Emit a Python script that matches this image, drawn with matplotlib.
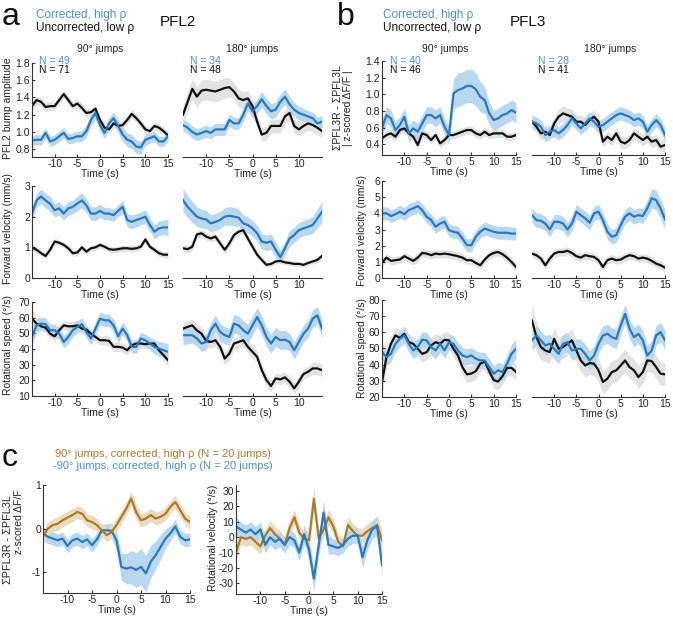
import numpy as np
import matplotlib
matplotlib.use("Agg")
import matplotlib.pyplot as plt

plt.rcParams['font.family'] = ['Liberation Sans', 'DejaVu Sans']

t = np.arange(-15, 16)

# ---- panel a : PFL2 ----
pfl2_amp_90_hi = [0.90, 0.91, 0.91, 0.99, 0.89, 0.91, 0.95, 0.99, 0.92, 0.93, 0.95, 0.95, 1.01, 1.14, 1.22, 1.08,
                  0.99, 1.10, 1.16, 1.07, 0.97, 0.91, 0.89, 0.83, 0.82, 0.91, 0.93, 0.95, 0.89, 0.89, 0.95]
pfl2_amp_90_hi_err = [0.06, 0.06, 0.06, 0.06, 0.06, 0.06, 0.06, 0.06, 0.06, 0.06, 0.06, 0.06, 0.07, 0.07, 0.07, 0.07,
                      0.07, 0.07, 0.07, 0.08, 0.08, 0.08, 0.08, 0.08, 0.07, 0.07, 0.06, 0.06, 0.06, 0.06, 0.06]
pfl2_amp_90_lo = [1.30, 1.37, 1.35, 1.29, 1.30, 1.30, 1.37, 1.44, 1.37, 1.30, 1.33, 1.28, 1.22, 1.23, 1.27, 1.14,
                  1.05, 1.03, 1.10, 1.07, 1.08, 1.14, 1.21, 1.16, 1.10, 1.03, 1.01, 1.07, 1.05, 1.01, 0.96]
pfl2_amp_90_lo_err = [0.05, 0.05, 0.05, 0.05, 0.05, 0.05, 0.05, 0.05, 0.05, 0.05, 0.05, 0.05, 0.05, 0.05, 0.05, 0.05,
                      0.05, 0.05, 0.05, 0.05, 0.05, 0.05, 0.05, 0.05, 0.05, 0.05, 0.05, 0.05, 0.05, 0.05, 0.05]
pfl2_amp_180_hi = [1.08, 1.05, 1.00, 0.97, 0.99, 1.01, 0.99, 1.03, 1.03, 1.03, 1.14, 1.10, 1.10, 1.20, 1.33, 1.24,
                   1.30, 1.38, 1.30, 1.24, 1.26, 1.35, 1.41, 1.32, 1.26, 1.22, 1.20, 1.18, 1.16, 1.10, 1.12]
pfl2_amp_180_hi_err = [0.07, 0.07, 0.07, 0.07, 0.07, 0.07, 0.07, 0.07, 0.07, 0.07, 0.07, 0.07, 0.07, 0.08, 0.08, 0.08,
                       0.08, 0.09, 0.09, 0.09, 0.09, 0.09, 0.09, 0.09, 0.08, 0.08, 0.07, 0.07, 0.07, 0.07, 0.07]
pfl2_amp_180_lo = [1.20, 1.35, 1.50, 1.41, 1.48, 1.49, 1.48, 1.47, 1.49, 1.51, 1.52, 1.47, 1.39, 1.37, 1.39, 1.30,
                   1.12, 0.97, 0.99, 1.07, 1.07, 1.07, 1.18, 1.22, 1.07, 1.03, 1.07, 1.10, 1.08, 1.05, 1.01]
pfl2_amp_180_lo_err = [0.10, 0.11, 0.12, 0.12, 0.12, 0.12, 0.12, 0.12, 0.12, 0.12, 0.11, 0.10, 0.10, 0.10, 0.09, 0.09,
                       0.08, 0.08, 0.08, 0.08, 0.08, 0.08, 0.08, 0.08, 0.08, 0.08, 0.08, 0.08, 0.08, 0.08, 0.08]

pfl2_fwd_90_hi = [2.10, 2.53, 2.66, 2.53, 2.42, 2.21, 2.27, 2.10, 2.27, 2.32, 2.43, 2.53, 2.37, 2.10, 2.10, 2.19,
                  2.10, 2.10, 2.05, 2.19, 2.32, 1.89, 1.83, 1.89, 1.94, 2.00, 1.73, 1.51, 1.62, 1.65, 1.65]
pfl2_fwd_90_hi_err = [0.22, 0.22, 0.24, 0.24, 0.24, 0.22, 0.22, 0.22, 0.22, 0.22, 0.24, 0.24, 0.22, 0.22, 0.22, 0.22,
                      0.20, 0.20, 0.20, 0.20, 0.22, 0.22, 0.22, 0.22, 0.22, 0.22, 0.22, 0.22, 0.24, 0.24, 0.26]
pfl2_fwd_90_lo = [0.99, 0.92, 0.81, 0.72, 0.92, 1.19, 1.15, 1.08, 0.97, 0.81, 0.83, 1.00, 0.86, 0.97, 1.00, 1.08,
                  1.02, 0.94, 0.92, 0.94, 0.97, 0.97, 0.95, 0.97, 1.02, 1.26, 1.02, 0.92, 0.81, 0.76, 0.76]
pfl2_fwd_90_lo_err = [0.10, 0.10, 0.10, 0.10, 0.10, 0.10, 0.10, 0.10, 0.10, 0.10, 0.10, 0.10, 0.10, 0.10, 0.10, 0.10,
                      0.10, 0.10, 0.10, 0.10, 0.10, 0.10, 0.10, 0.10, 0.10, 0.10, 0.10, 0.10, 0.10, 0.10, 0.10]
pfl2_fwd_180_hi = [2.54, 2.32, 2.16, 2.00, 1.94, 1.91, 1.78, 1.83, 1.89, 2.00, 2.03, 2.00, 1.97, 1.78, 1.73, 1.62,
                   1.46, 1.19, 1.15, 1.19, 0.92, 0.68, 0.97, 1.29, 1.40, 1.56, 1.62, 1.67, 1.73, 1.94, 2.16]
pfl2_fwd_180_hi_err = [0.38, 0.36, 0.34, 0.32, 0.30, 0.30, 0.28, 0.28, 0.28, 0.28, 0.30, 0.30, 0.28, 0.28, 0.26, 0.26,
                       0.25, 0.25, 0.25, 0.25, 0.25, 0.22, 0.22, 0.25, 0.25, 0.25, 0.25, 0.26, 0.28, 0.30, 0.34]
pfl2_fwd_180_lo = [0.97, 0.94, 1.02, 1.42, 1.46, 1.35, 1.29, 1.35, 1.13, 0.92, 1.13, 1.40, 1.51, 1.56, 1.29, 1.02,
                   0.76, 0.59, 0.43, 0.46, 0.54, 0.56, 0.51, 0.49, 0.46, 0.46, 0.43, 0.49, 0.54, 0.59, 0.72]
pfl2_fwd_180_lo_err = [0.12, 0.12, 0.12, 0.12, 0.12, 0.12, 0.12, 0.12, 0.12, 0.12, 0.12, 0.12, 0.12, 0.12, 0.12, 0.12,
                       0.10, 0.10, 0.08, 0.08, 0.08, 0.08, 0.08, 0.08, 0.08, 0.08, 0.08, 0.08, 0.08, 0.10, 0.12]

pfl2_rot_90_hi = [47.7, 55.1, 56.2, 55.8, 52.0, 52.0, 49.8, 44.5, 47.7, 52.0, 54.1, 55.8, 50.9, 46.7, 53.0, 59.4,
                  58.3, 58.3, 55.1, 48.1, 53.0, 48.8, 41.4, 41.4, 46.7, 45.6, 43.5, 41.4, 40.3, 39.2, 38.2]
pfl2_rot_90_hi_err = [5.0, 4.5, 4.0, 4.0, 4.0, 4.0, 4.0, 4.0, 4.0, 4.0, 4.0, 4.0, 4.0, 4.0, 4.0, 4.0,
                      4.0, 4.0, 4.0, 4.0, 4.0, 4.0, 4.0, 4.0, 4.0, 4.0, 4.0, 4.5, 4.5, 5.0, 5.0]
pfl2_rot_90_lo = [59.4, 56.2, 54.5, 53.6, 49.8, 48.1, 52.0, 55.1, 54.5, 54.5, 55.1, 53.0, 52.4, 49.8, 47.7, 45.6,
                  45.6, 45.2, 41.4, 41.4, 40.9, 39.2, 42.4, 43.5, 43.5, 43.1, 43.5, 43.5, 39.2, 36.1, 32.9]
pfl2_rot_90_lo_err = [6.0, 4.0, 3.0, 3.0, 3.0, 3.0, 3.0, 3.0, 3.0, 3.0, 3.0, 3.0, 3.0, 3.0, 3.0, 3.0,
                      3.0, 3.0, 3.0, 3.0, 3.0, 3.0, 3.0, 3.0, 3.0, 3.0, 3.0, 3.0, 3.0, 3.5, 4.0]
pfl2_rot_180_hi = [48.8, 48.8, 48.8, 46.7, 43.5, 44.5, 52.0, 56.2, 50.9, 48.8, 47.7, 56.2, 55.1, 52.0, 49.8, 55.1,
                   60.4, 55.1, 47.7, 43.5, 47.7, 45.6, 46.0, 44.5, 39.2, 44.5, 49.8, 53.0, 59.4, 61.5, 53.0]
pfl2_rot_180_hi_err = [6.0, 5.5, 5.0, 5.0, 5.0, 5.0, 5.0, 5.5, 5.5, 5.5, 5.5, 6.0, 6.0, 6.0, 6.0, 6.0,
                       6.0, 6.0, 6.0, 6.0, 6.0, 6.0, 6.0, 5.5, 5.5, 5.5, 5.5, 5.5, 5.5, 5.5, 6.0]
pfl2_rot_180_lo = [53.0, 54.1, 55.1, 51.9, 49.8, 45.2, 44.5, 45.6, 41.4, 33.9, 37.1, 43.5, 44.5, 45.6, 41.4, 38.2,
                   35.0, 26.5, 20.2, 16.4, 21.2, 20.6, 21.9, 19.1, 14.9, 19.1, 24.0, 25.5, 27.6, 27.6, 26.5]
pfl2_rot_180_lo_err = [4.0, 4.0, 4.0, 4.0, 4.0, 4.0, 4.0, 4.0, 4.0, 4.0, 4.0, 4.0, 4.0, 4.0, 4.0, 4.0,
                       3.5, 3.5, 3.5, 3.5, 3.5, 3.5, 3.5, 3.5, 3.5, 3.5, 3.5, 3.5, 4.0, 4.0, 4.0]

# ---- panel b : PFL3 ----
pfl3_z_90_hi = [0.59, 0.75, 0.71, 0.57, 0.63, 0.73, 0.53, 0.59, 0.55, 0.65, 0.75, 0.75, 0.71, 0.75, 0.61, 0.51,
                1.01, 1.05, 1.07, 1.10, 1.10, 1.06, 0.97, 0.93, 0.77, 0.69, 0.71, 0.75, 0.77, 0.81, 0.78]
pfl3_z_90_hi_err = [0.10, 0.10, 0.10, 0.10, 0.10, 0.10, 0.10, 0.10, 0.10, 0.10, 0.10, 0.10, 0.10, 0.10, 0.10, 0.10,
                    0.18, 0.20, 0.20, 0.20, 0.20, 0.20, 0.18, 0.16, 0.14, 0.12, 0.12, 0.12, 0.12, 0.12, 0.12]
pfl3_z_90_lo = [0.47, 0.51, 0.53, 0.49, 0.57, 0.59, 0.53, 0.49, 0.39, 0.53, 0.51, 0.45, 0.51, 0.41, 0.45, 0.51,
                0.51, 0.53, 0.55, 0.57, 0.57, 0.53, 0.51, 0.55, 0.51, 0.53, 0.53, 0.53, 0.49, 0.49, 0.51]
pfl3_z_90_lo_err = [0.05, 0.05, 0.05, 0.05, 0.05, 0.05, 0.05, 0.05, 0.05, 0.05, 0.05, 0.05, 0.05, 0.05, 0.05, 0.05,
                    0.05, 0.05, 0.05, 0.05, 0.05, 0.05, 0.05, 0.05, 0.05, 0.05, 0.05, 0.05, 0.05, 0.05, 0.05]
pfl3_z_180_hi = [0.67, 0.65, 0.61, 0.51, 0.55, 0.57, 0.53, 0.57, 0.63, 0.71, 0.65, 0.59, 0.65, 0.71, 0.67, 0.61,
                 0.63, 0.67, 0.71, 0.75, 0.77, 0.75, 0.73, 0.69, 0.71, 0.67, 0.55, 0.63, 0.69, 0.63, 0.51]
pfl3_z_180_hi_err = [0.08, 0.08, 0.08, 0.08, 0.08, 0.08, 0.08, 0.08, 0.08, 0.08, 0.08, 0.08, 0.08, 0.08, 0.08, 0.08,
                     0.08, 0.08, 0.08, 0.08, 0.08, 0.08, 0.08, 0.08, 0.08, 0.08, 0.08, 0.08, 0.08, 0.08, 0.08]
pfl3_z_180_lo = [0.67, 0.61, 0.53, 0.55, 0.51, 0.65, 0.73, 0.77, 0.75, 0.73, 0.67, 0.67, 0.63, 0.69, 0.73, 0.67,
                 0.43, 0.49, 0.45, 0.53, 0.43, 0.41, 0.45, 0.53, 0.49, 0.45, 0.49, 0.43, 0.45, 0.37, 0.39]
pfl3_z_180_lo_err = [0.08, 0.08, 0.08, 0.08, 0.08, 0.08, 0.09, 0.09, 0.09, 0.09, 0.08, 0.08, 0.08, 0.08, 0.08, 0.08,
                     0.07, 0.07, 0.07, 0.07, 0.07, 0.07, 0.07, 0.07, 0.07, 0.07, 0.07, 0.07, 0.07, 0.07, 0.07]

pfl3_fwd_90_hi = [4.00, 4.00, 3.83, 3.95, 4.10, 3.95, 4.20, 4.31, 4.45, 4.20, 3.79, 3.58, 3.17, 3.37, 3.48, 2.96,
                  2.86, 2.80, 2.44, 2.03, 2.03, 2.55, 2.86, 3.06, 2.96, 2.86, 2.80, 2.80, 2.80, 2.75, 2.75]
pfl3_fwd_90_hi_err = [0.40, 0.40, 0.40, 0.40, 0.40, 0.40, 0.40, 0.40, 0.40, 0.40, 0.40, 0.40, 0.40, 0.40, 0.40, 0.40,
                      0.40, 0.40, 0.40, 0.40, 0.40, 0.40, 0.40, 0.40, 0.40, 0.40, 0.40, 0.40, 0.40, 0.40, 0.40]
pfl3_fwd_90_lo = [0.95, 1.26, 1.06, 1.10, 1.14, 1.35, 1.20, 1.06, 1.26, 1.55, 1.51, 1.41, 1.51, 1.47, 1.51, 1.47,
                  1.41, 1.35, 1.26, 1.10, 1.10, 0.93, 0.79, 1.14, 1.41, 1.55, 1.61, 1.47, 1.26, 0.99, 0.68]
pfl3_fwd_90_lo_err = [0.25, 0.25, 0.25, 0.25, 0.25, 0.25, 0.25, 0.25, 0.25, 0.25, 0.25, 0.25, 0.25, 0.25, 0.25, 0.25,
                      0.25, 0.25, 0.25, 0.25, 0.25, 0.25, 0.25, 0.25, 0.25, 0.25, 0.25, 0.25, 0.25, 0.25, 0.25]
pfl3_fwd_180_hi = [3.89, 3.58, 3.54, 3.37, 3.00, 3.48, 3.48, 3.37, 3.00, 3.37, 4.10, 3.89, 3.69, 3.42, 4.00, 4.10,
                   3.58, 2.86, 2.55, 2.65, 3.27, 3.79, 4.00, 3.79, 3.89, 3.83, 4.31, 4.93, 4.82, 4.31, 3.62]
pfl3_fwd_180_hi_err = [0.45, 0.45, 0.45, 0.45, 0.45, 0.45, 0.45, 0.45, 0.45, 0.45, 0.45, 0.45, 0.45, 0.45, 0.45, 0.45,
                       0.45, 0.45, 0.45, 0.45, 0.45, 0.45, 0.45, 0.45, 0.45, 0.45, 0.50, 0.60, 0.60, 0.60, 0.60]
pfl3_fwd_180_lo = [1.51, 1.41, 1.20, 0.79, 1.20, 1.51, 1.61, 1.61, 1.68, 1.55, 1.35, 1.26, 1.41, 1.35, 1.30, 1.10,
                   0.68, 1.10, 1.20, 1.10, 1.14, 1.30, 1.41, 1.35, 1.20, 1.26, 1.20, 1.06, 0.89, 0.79, 0.64]
pfl3_fwd_180_lo_err = [0.25, 0.25, 0.25, 0.25, 0.25, 0.25, 0.25, 0.25, 0.25, 0.25, 0.25, 0.25, 0.25, 0.25, 0.25, 0.25,
                       0.25, 0.25, 0.25, 0.25, 0.25, 0.25, 0.25, 0.25, 0.25, 0.25, 0.25, 0.25, 0.25, 0.25, 0.25]

pfl3_rot_90_hi = [47.8, 44.7, 46.7, 52.9, 56.0, 58.1, 52.9, 48.8, 50.9, 55.4, 55.0, 50.9, 48.8, 52.9, 48.8, 53.9,
                  52.9, 48.8, 45.7, 44.7, 45.7, 43.7, 42.6, 42.6, 38.5, 34.4, 36.5, 35.4, 40.6, 46.7, 49.8]
pfl3_rot_90_hi_err = [5.0, 5.0, 5.0, 5.0, 5.0, 5.0, 5.0, 5.0, 5.0, 5.0, 5.0, 5.0, 5.0, 5.0, 5.0, 5.0,
                      5.0, 5.0, 5.0, 5.0, 5.0, 5.0, 5.0, 5.0, 5.0, 5.0, 5.0, 5.0, 5.5, 6.0, 6.0]
pfl3_rot_90_lo = [29.3, 44.7, 52.9, 58.1, 56.6, 59.1, 53.9, 52.9, 49.8, 46.7, 47.8, 51.9, 53.9, 52.9, 55.4, 55.0,
                  49.8, 45.7, 38.5, 34.0, 34.5, 36.0, 40.6, 42.0, 36.0, 30.5, 29.5, 33.0, 38.0, 38.0, 35.5]
pfl3_rot_90_lo_err = [8.0, 6.0, 5.0, 5.0, 5.0, 5.0, 5.0, 5.0, 5.0, 5.0, 5.0, 5.0, 5.0, 5.0, 5.0, 5.0,
                      5.0, 5.0, 5.0, 5.0, 5.0, 5.0, 5.0, 5.0, 5.0, 5.0, 5.0, 5.0, 5.0, 5.0, 5.0]
pfl3_rot_180_hi = [55.0, 58.1, 55.0, 51.9, 52.9, 49.8, 46.7, 52.9, 53.9, 48.8, 49.8, 49.8, 46.7, 42.6, 45.7, 52.9,
                   58.1, 59.1, 57.0, 56.0, 64.2, 71.4, 62.2, 57.0, 59.1, 55.0, 45.7, 48.8, 58.1, 60.1, 55.0]
pfl3_rot_180_hi_err = [6.0, 6.0, 6.0, 6.0, 6.0, 6.0, 6.0, 6.0, 6.0, 6.0, 6.0, 6.0, 6.0, 6.0, 6.0, 6.0,
                       6.0, 6.0, 6.0, 6.0, 6.0, 6.0, 6.0, 6.0, 6.0, 6.0, 6.0, 6.0, 6.0, 6.0, 6.0]
pfl3_rot_180_lo = [67.3, 57.0, 50.9, 48.8, 47.8, 56.0, 49.8, 50.9, 52.9, 55.0, 48.8, 42.6, 39.5, 41.0, 40.6, 36.5,
                   29.3, 31.3, 35.4, 36.5, 39.5, 42.6, 38.5, 36.5, 32.3, 35.4, 42.6, 42.2, 38.5, 34.4, 34.0]
pfl3_rot_180_lo_err = [10.0, 9.0, 8.0, 7.0, 7.0, 7.0, 7.0, 7.0, 7.0, 7.0, 7.0, 7.0, 7.0, 7.0, 7.0, 7.0,
                       7.0, 7.0, 7.0, 7.0, 7.0, 7.0, 7.0, 7.0, 7.0, 7.0, 7.0, 7.0, 7.0, 7.0, 7.0]

# ---- panel c : +90 vs -90 jumps ----
c_z_pos = [-0.19, 0.00, 0.08, 0.11, 0.19, 0.25, 0.31, 0.38, 0.34, 0.19, 0.15, 0.08, -0.04, -0.15, -0.08, 0.08,
           0.27, 0.46, 0.69, 0.38, 0.19, 0.23, 0.31, 0.23, 0.27, 0.34, 0.50, 0.61, 0.42, 0.23, 0.15]
c_z_pos_err = [0.15, 0.15, 0.15, 0.15, 0.15, 0.15, 0.15, 0.15, 0.15, 0.15, 0.15, 0.15, 0.15, 0.15, 0.15, 0.15,
               0.15, 0.15, 0.17, 0.17, 0.15, 0.15, 0.15, 0.15, 0.15, 0.15, 0.15, 0.15, 0.15, 0.15, 0.15]
c_z_neg = [-0.11, -0.19, -0.23, -0.27, -0.23, -0.40, -0.27, -0.23, -0.31, -0.25, -0.38, -0.25, -0.04, -0.04, -0.05, -0.27,
           -0.88, -0.92, -0.89, -0.95, -0.88, -1.03, -0.76, -0.61, -0.42, -0.23, -0.11, 0.05, -0.19, -0.27, -0.25]
c_z_neg_err = [0.15, 0.15, 0.15, 0.15, 0.15, 0.15, 0.15, 0.15, 0.15, 0.15, 0.15, 0.15, 0.15, 0.15, 0.18, 0.22,
               0.30, 0.35, 0.38, 0.40, 0.42, 0.42, 0.38, 0.32, 0.28, 0.22, 0.18, 0.16, 0.16, 0.15, 0.15]
c_rv_pos = [-10, 0, -1, 0, -3, -6, 1, 6, 2, -1, -5, 6, 13, 3, -1, -2,
            25, -1, 5, 13, 7, -3, -6, 8, 4, 1, 1, 4, 6, 8, -2]
c_rv_pos_err = [5, 5, 5, 5, 5, 5, 5, 5, 5, 5, 5, 5, 5, 5, 5, 6,
                8, 6, 5, 5, 5, 5, 5, 5, 5, 5, 5, 5, 5, 6, 7]
c_rv_neg = [7, 5, 3, 5, 2, 5, -5, 0, -3, -1, -5, 0, -2, -10, 2, -8,
            -27, -5, 16, -5, -6, -7, -5, -1, 1, 1, -13, -2, 5, 7, -18]
c_rv_neg_err = [6, 5, 5, 5, 5, 5, 5, 5, 5, 5, 5, 5, 5, 5, 6, 7,
                8, 7, 8, 6, 5, 5, 5, 5, 5, 5, 7, 6, 6, 6, 8]

BLUE = '#2b79ba'
BLUE_BAND = '#b9d8f0'
BLUE_TXT = '#4a90cf'
BLACK = '#111111'
GREY_BAND = '#e2e2e2'
GOLD = '#a97c2c'
GOLD_BAND = '#ecdcbf'
AX = '#333333'

W, H = 673, 622
fig = plt.figure(figsize=(W / 100, H / 100), dpi=100)


def box(x0, y0, x1, y1):
    return [x0 / W, 1 - y1 / H, (x1 - x0) / W, (y1 - y0) / H]


def ftext(x, y, s, **kw):
    fig.text(x / W, 1 - y / H, s, **kw)


def draw(ax, series, ylim, yticks, yfmt, xticks, left=True):
    for m, e, c, b in series:
        m = np.array(m, float)
        e = np.array(e, float)
        ax.fill_between(t, m - e, m + e, color=b, lw=0)
    for m, e, c, b in series:
        ax.plot(t, m, color=c, lw=1.6)
    ax.set_xlim(-15, 15)
    ax.set_ylim(*ylim)
    ax.set_xticks(xticks)
    ax.set_xticklabels([str(v) for v in xticks])
    for s in ['top', 'right']:
        ax.spines[s].set_visible(False)
    ax.spines['bottom'].set_color(AX)
    ax.spines['left'].set_color(AX)
    ax.spines['bottom'].set_linewidth(0.8)
    ax.spines['left'].set_linewidth(0.8)
    if left:
        ax.set_yticks(yticks)
        ax.set_yticklabels([yfmt.format(v) for v in yticks])
    else:
        ax.spines['left'].set_visible(False)
        ax.set_yticks([])
    ax.tick_params(direction='in', length=2.5, width=0.8, color=AX, labelsize=7.5,
                   labelcolor='#222222', pad=1.5)
    ax.set_xlabel('Time (s)', fontsize=7.5, color='#222222', labelpad=0)
    ax.patch.set_alpha(0)


# panel a
a_cols = [(32, 168), (183, 322)]
b_cols = [(382, 516), (532, 665)]
a_rows = [(63, 157), (186, 278), (302, 396)]
b_rows = [(61, 155), (181, 278), (300, 397)]

a_data = [
    [(pfl2_amp_90_lo, pfl2_amp_90_lo_err, pfl2_amp_90_hi, pfl2_amp_90_hi_err),
     (pfl2_amp_180_lo, pfl2_amp_180_lo_err, pfl2_amp_180_hi, pfl2_amp_180_hi_err)],
    [(pfl2_fwd_90_lo, pfl2_fwd_90_lo_err, pfl2_fwd_90_hi, pfl2_fwd_90_hi_err),
     (pfl2_fwd_180_lo, pfl2_fwd_180_lo_err, pfl2_fwd_180_hi, pfl2_fwd_180_hi_err)],
    [(pfl2_rot_90_lo, pfl2_rot_90_lo_err, pfl2_rot_90_hi, pfl2_rot_90_hi_err),
     (pfl2_rot_180_lo, pfl2_rot_180_lo_err, pfl2_rot_180_hi, pfl2_rot_180_hi_err)],
]
b_data = [
    [(pfl3_z_90_lo, pfl3_z_90_lo_err, pfl3_z_90_hi, pfl3_z_90_hi_err),
     (pfl3_z_180_lo, pfl3_z_180_lo_err, pfl3_z_180_hi, pfl3_z_180_hi_err)],
    [(pfl3_fwd_90_lo, pfl3_fwd_90_lo_err, pfl3_fwd_90_hi, pfl3_fwd_90_hi_err),
     (pfl3_fwd_180_lo, pfl3_fwd_180_lo_err, pfl3_fwd_180_hi, pfl3_fwd_180_hi_err)],
    [(pfl3_rot_90_lo, pfl3_rot_90_lo_err, pfl3_rot_90_hi, pfl3_rot_90_hi_err),
     (pfl3_rot_180_lo, pfl3_rot_180_lo_err, pfl3_rot_180_hi, pfl3_rot_180_hi_err)],
]

a_ylims = [(0.71, 1.8), (0, 3), (10, 70)]
a_yticks = [[0.8, 1.0, 1.2, 1.4, 1.6, 1.8], [0, 1, 2, 3], [10, 20, 30, 40, 50, 60, 70]]
a_yfmt = ['{:.1f}', '{:d}', '{:d}']
b_ylims = [(0.27, 1.4), (0, 6), (20, 80)]
b_yticks = [[0.4, 0.6, 0.8, 1.0, 1.2, 1.4], [0, 1, 2, 3, 4, 5, 6], [20, 30, 40, 50, 60, 70, 80]]
b_yfmt = ['{:.1f}', '{:d}', '{:d}']

full_ticks = [-10, -5, 0, 5, 10, 15]
short_ticks = [-10, -5, 0, 5, 10]

for r in range(3):
    for c in range(2):
        lo, loe, hi, hie = a_data[r][c]
        ax = fig.add_axes(box(a_cols[c][0], a_rows[r][0], a_cols[c][1], a_rows[r][1]))
        draw(ax, [(lo, loe, BLACK, GREY_BAND), (hi, hie, BLUE, BLUE_BAND)],
             a_ylims[r], a_yticks[r], a_yfmt[r], full_ticks if c == 0 else short_ticks, left=(c == 0))
        lo, loe, hi, hie = b_data[r][c]
        ax = fig.add_axes(box(b_cols[c][0], b_rows[r][0], b_cols[c][1], b_rows[r][1]))
        draw(ax, [(lo, loe, BLACK, GREY_BAND), (hi, hie, BLUE, BLUE_BAND)],
             b_ylims[r], b_yticks[r], b_yfmt[r], full_ticks, left=(c == 0))

# panel c
ax = fig.add_axes(box(43, 485, 190, 593))
draw(ax, [(c_z_neg, c_z_neg_err, BLUE, BLUE_BAND), (c_z_pos, c_z_pos_err, GOLD, GOLD_BAND)],
     (-1.48, 1), [-1, 0, 1], '{:d}', full_ticks)
ax = fig.add_axes(box(236, 485, 382, 594))
draw(ax, [(c_rv_pos, c_rv_pos_err, GOLD, GOLD_BAND), (c_rv_neg, c_rv_neg_err, BLUE, BLUE_BAND)],
     (-37, 34), [-30, -20, -10, 0, 10, 20, 30], '{:d}', full_ticks)

# headers
ftext(2, 17, 'a', fontsize=23, va='center', ha='left', color='#111111')
ftext(36, 15, 'Corrected, high ρ', fontsize=8.5, color=BLUE_TXT, va='center')
ftext(36, 28, 'Uncorrected, low ρ', fontsize=8.5, color='#111111', va='center')
ftext(160, 22, 'PFL2', fontsize=11, va='center', color='#111111')
ftext(337, 17, 'b', fontsize=23, va='center', ha='left', color='#111111')
ftext(383, 15, 'Corrected, high ρ', fontsize=8.5, color=BLUE_TXT, va='center')
ftext(383, 28, 'Uncorrected, low ρ', fontsize=8.5, color='#111111', va='center')
ftext(510, 22, 'PFL3', fontsize=11, va='center', color='#111111')

for xc, s in [(100, '90° jumps'), (252, '180° jumps'), (445, '90° jumps'), (610, '180° jumps')]:
    ftext(xc, 49, s, fontsize=7.5, ha='center', va='center', color='#222222')

for x, n1, n2 in [(39, 'N = 49', 'N = 71'), (190, 'N = 34', 'N = 48'),
                  (390, 'N = 40', 'N = 46'), (538, 'N = 28', 'N = 41')]:
    ftext(x, 61, n1, fontsize=7.5, color=BLUE_TXT, va='center')
    ftext(x, 70, n2, fontsize=7.5, color='#111111', va='center')

# y labels
yl = dict(fontsize=7.5, rotation=90, ha='center', va='center', color='#222222')
ftext(8, 108, 'PFL2 bump amplitude', **yl)
ftext(8, 228, 'Forward velocity (mm/s)', **yl)
ftext(8, 345, 'Rotational speed (°/s)', **yl)
ftext(338, 108, 'ΣPFL3R - ΣPFL3L', **yl)
ftext(348, 108, '| z-scored ΔF/F |', **yl)
ftext(362, 230, 'Forward velocity (mm/s)', **yl)
ftext(362, 348, 'Rotational speed (°/s)', **yl)
ftext(8, 540, 'ΣPFL3R - ΣPFL3L', fontsize=7.8, rotation=90, ha='center', va='center', color='#222222')
ftext(19, 522, 'z-scored ΔF/F', **yl)
ftext(213, 538, 'Rotational velocity (°/s)', **yl)

ftext(2, 458, 'c', fontsize=23, va='center', ha='left', color='#111111')
ftext(163, 454, '90° jumps, corrected, high ρ (N = 20 jumps)', fontsize=8, color=GOLD, ha='center', va='center')
ftext(163, 466, '-90° jumps, corrected, high ρ (N = 20 jumps)', fontsize=8, color=BLUE_TXT, ha='center', va='center')

fig.savefig('out.png', dpi=100)
